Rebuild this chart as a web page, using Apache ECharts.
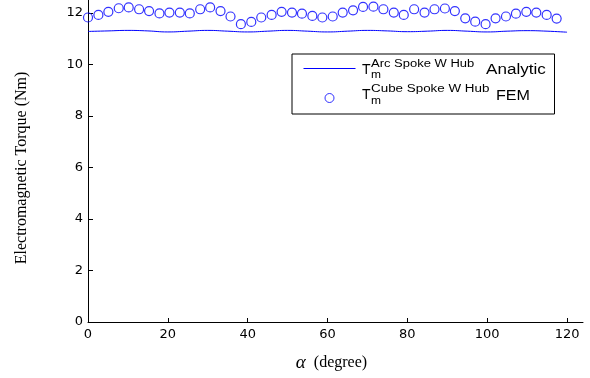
<!DOCTYPE html>
<html>
<head>
<meta charset="utf-8">
<script src="https://cdn.jsdelivr.net/npm/echarts@6/dist/echarts.min.js"></script>
<style>html,body{margin:0;padding:0;background:#fff;}#c{width:590px;height:378px;}</style>
</head>
<body>
<div id="c"></div>
<script>
// ---- data ----
var xTicks = [0, 20, 40, 60, 80, 100, 120];
var yTicks = [0, 2, 4, 6, 8, 10, 12];

var analyticAngles = [0, 5, 10, 15, 20, 25, 30, 35, 40, 45, 50, 55, 60, 65, 70, 75, 80, 85, 90, 95, 100, 105, 110, 115, 120];
var analyticTorque = [11.28, 11.30, 11.32, 11.30, 11.26, 11.29, 11.32, 11.29, 11.26, 11.29, 11.32, 11.29, 11.26, 11.29, 11.32, 11.30, 11.27, 11.29, 11.32, 11.29, 11.26, 11.29, 11.31, 11.29, 11.25];

var femAngles = [0, 2.6, 5.1, 7.7, 10.2, 12.8, 15.3, 17.9, 20.4, 23.0, 25.5, 28.1, 30.6, 33.2, 35.7, 38.3, 40.9, 43.4, 46.0, 48.5, 51.1, 53.6, 56.2, 58.7, 61.3, 63.8, 66.4, 68.9, 71.5, 74.0, 76.6, 79.1, 81.7, 84.3, 86.8, 89.4, 91.9, 94.5, 97.0, 99.6, 102.1, 104.7, 107.2, 109.8, 112.3, 114.9, 117.4];
var femTorque = [11.82, 11.92, 12.04, 12.18, 12.21, 12.14, 12.07, 11.98, 12.01, 12.01, 11.98, 12.14, 12.21, 12.07, 11.86, 11.56, 11.65, 11.82, 11.92, 12.04, 12.01, 11.97, 11.88, 11.82, 11.86, 12.01, 12.10, 12.23, 12.24, 12.14, 12.01, 11.92, 12.14, 12.01, 12.14, 12.17, 12.07, 11.79, 11.66, 11.56, 11.79, 11.86, 11.97, 12.04, 12.01, 11.92, 11.78];

var seriesNames = ['Analytic', 'FEM'];

function zip(a, b) { return a.map(function (v, i) { return [v, b[i]]; }); }

var chart = echarts.init(document.getElementById('c'), null, { renderer: 'canvas' });

function txt(x, y, s, size, sx) {
  return {
    type: 'text', x: x, y: y, scaleX: sx, scaleY: 1, z: 100,
    style: {
      text: s, x: 0, y: 0, fill: '#000',
      font: size + 'px "Liberation Sans", Arial, sans-serif',
      textAlign: 'left', textVerticalAlign: 'middle', align: 'left', verticalAlign: 'middle'
    }
  };
}

var option = {
  animation: false,
  backgroundColor: '#fff',
  grid: { left: 88, right: 7, top: 0, bottom: 56, containLabel: false },
  xAxis: {
    type: 'value', min: 0, max: 124,
    name: '{a|α}{b|  (degree)}',
    nameLocation: 'middle', nameGap: 31,
    nameTextStyle: {
      padding: [0, 8, 0, 0],
      rich: {
        a: { fontFamily: '"Liberation Serif", serif', fontStyle: 'italic', fontSize: 19, color: '#000' },
        b: { fontFamily: '"Liberation Serif", serif', fontSize: 16, color: '#000' }
      }
    },
    axisLine: { show: true, onZero: false, lineStyle: { color: '#000', width: 1 } },
    axisTick: { show: true, inside: true, length: 4, customValues: xTicks, lineStyle: { color: '#000' } },
    axisLabel: { customValues: xTicks, margin: 6, color: '#000', fontFamily: '"DejaVu Sans", sans-serif', fontSize: 13 },
    splitLine: { show: false }
  },
  yAxis: {
    type: 'value', min: 0, max: 12.5,
    name: 'Electromagnetic Torque (Nm)',
    nameLocation: 'middle', nameGap: 58,
    nameTextStyle: { fontFamily: '"Liberation Serif", serif', fontSize: 16, color: '#000', padding: [0, 14, 0, 0] },
    axisLine: { show: true, onZero: false, lineStyle: { color: '#000', width: 1 } },
    axisTick: { show: true, inside: true, length: 5, customValues: yTicks, lineStyle: { color: '#000' } },
    axisLabel: { customValues: yTicks, margin: 5, color: '#000', fontFamily: '"DejaVu Sans", sans-serif', fontSize: 13 },
    splitLine: { show: false }
  },
  legend: {
    show: true,
    orient: 'vertical',
    left: 292, top: 54,
    padding: [10, 8, 11, 11],
    itemWidth: 52, itemHeight: 9, itemGap: 20,
    borderColor: '#000', borderWidth: 1, backgroundColor: '#fff',
    data: [
      { name: seriesNames[0], itemStyle: { opacity: 0 }, lineStyle: { color: '#0000ff', width: 1, opacity: 1 } },
      { name: seriesNames[1], itemStyle: { borderWidth: 1, color: 'rgba(0,0,0,0)', borderColor: '#0000ff' } }
    ],
    formatter: function () { return '{w| }'; },
    textStyle: { rich: { w: { width: 186, height: 9, lineHeight: 9, fontSize: 9 } } }
  },
  graphic: {
    elements: [
      txt(362, 70, 'T', 14, 1.0),
      txt(371, 64.5, 'Arc Spoke W Hub', 10, 1.3),
      txt(371, 75, 'm', 10, 1.2),
      txt(486, 70, 'Analytic', 14, 1.22),
      txt(362, 95, 'T', 14, 1.0),
      txt(371, 89.5, 'Cube Spoke W Hub', 10, 1.34),
      txt(371, 101, 'm', 10, 1.2),
      txt(496, 96.5, 'FEM', 14, 1.15)
    ]
  },
  series: [
    {
      name: seriesNames[0], type: 'line', data: zip(analyticAngles, analyticTorque),
      symbol: 'none', showSymbol: false, smooth: true,
      lineStyle: { color: '#0000ff', width: 1 }, itemStyle: { color: '#0000ff' }
    },
    {
      name: seriesNames[1], type: 'scatter', data: zip(femAngles, femTorque),
      symbol: 'circle', symbolSize: 9,
      itemStyle: { color: 'rgba(0,0,0,0)', borderColor: '#0000ff', borderWidth: 1.2 }
    }
  ]
};
chart.setOption(option);
</script>
</body>
</html>
